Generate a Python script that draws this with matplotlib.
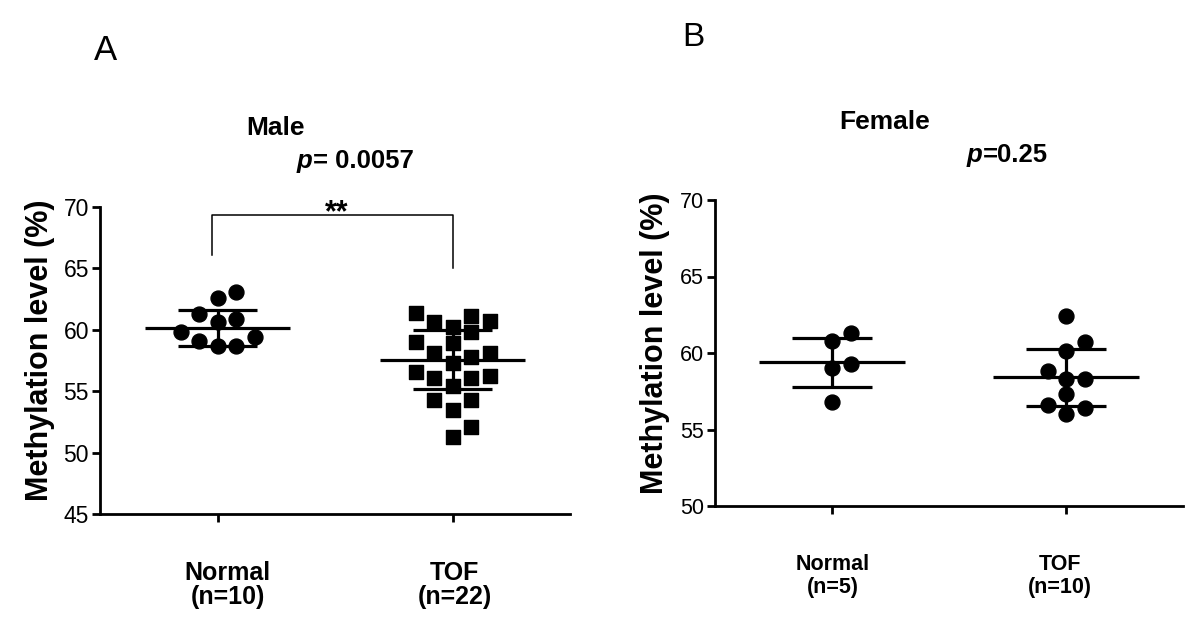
import numpy as np
import matplotlib
matplotlib.use('Agg')
import matplotlib.pyplot as plt
from matplotlib.transforms import ScaledTranslation, blended_transform_factory

plt.rcParams['font.family'] = ['Liberation Sans', 'DejaVu Sans']

# values (methylation %, each dot = one subject)
male_labels = ['Normal\n(n=10)', 'TOF\n(n=22)']
female_labels = ['Normal\n(n=5)', 'TOF\n(n=10)']

male_normal = [63.1, 62.6, 61.3, 60.9, 60.6, 59.8, 59.4, 59.1, 58.7, 58.7]
male_tof = [61.4, 60.7, 60.6, 61.1, 60.2, 59.8, 58.9, 59.0, 58.1, 57.8, 57.3,
            58.1, 56.6, 56.1, 56.1, 56.2, 55.4, 54.3, 54.3, 53.5, 52.1, 51.3]
female_normal = [61.3, 60.8, 59.3, 59.0, 56.8]
female_tof = [62.4, 60.7, 60.1, 58.3, 58.8, 58.3, 57.3, 56.6, 56.4, 56.0]

# mean +/- SD bars as drawn
male_mean = [60.15, 57.55]
male_sd = [1.45, 2.4]
female_mean = [59.4, 58.4]
female_sd = [1.6, 1.85]

male_p = '= 0.0057'
female_p = '=0.25'

fig = plt.figure(figsize=(12, 6.42), dpi=100)
W, H = 1200, 642


def fx(px):
    return px / W


def fy(py):
    return 1 - py / H


axA = fig.add_axes([fx(100), fy(514), fx(470), 307 / H])
axB = fig.add_axes([fx(715), fy(506), fx(468), 306 / H])


def swarm(ax, x0, vals, diam, step):
    # greedy column scatter like GraphPad: nearest free slot to the centre
    t = ax.transData
    sx = t.transform((1, 0))[0] - t.transform((0, 0))[0]
    sy = t.transform((0, 1))[1] - t.transform((0, 0))[1]
    vals = np.asarray(vals)
    xs = np.zeros(len(vals))
    placed = []
    for i in np.argsort(vals, kind='stable'):
        y = vals[i] * sy
        for k in [0, 1, -1, 2, -2, 3, -3]:
            x = k * step
            if all((x - a) ** 2 + (y - b) ** 2 >= diam ** 2 for a, b in placed):
                break
        placed.append((x, y))
        xs[i] = x0 + x / sx
    return xs


def style(ax, lo, hi, size):
    ax.set_xlim(0.5, 2.5)
    ax.set_ylim(lo, hi)
    ax.set_yticks(np.arange(lo, hi + 1, 5))
    ax.set_xticks([1, 2])
    ax.set_xticklabels(['', ''])
    for s in ['top', 'right']:
        ax.spines[s].set_visible(False)
    for s in ['left', 'bottom']:
        ax.spines[s].set_linewidth(2)
    ax.tick_params(direction='out', length=6, width=2, pad=2)
    ax.tick_params(axis='y', labelsize=size)


def mean_sd(ax, means, sds):
    for x, m, s in zip([1, 2], means, sds):
        ax.hlines(m, x - 0.31, x + 0.31, color='black', lw=2.3, zorder=4)
        ax.hlines([m - s, m + s], x - 0.17, x + 0.17, color='black', lw=2.3, zorder=4)
        ax.vlines(x, m - s, m + s, color='black', lw=2.3, zorder=4)


def group_labels(ax, labels, dxs, top, size, spacing):
    trans = blended_transform_factory(ax.transData, ax.transAxes)
    for x, lab, dx in zip([1, 2], labels, dxs):
        ax.text(x, 0, lab, transform=trans + ScaledTranslation(dx / 100, -top / 100, fig.dpi_scale_trans),
                ha='center', va='top', fontsize=size, fontweight='bold', linespacing=spacing,
                multialignment='center')


# panel A: male
style(axA, 45, 70, 16.5)
axA.scatter(swarm(axA, 1, male_normal, 15, 18.5), male_normal, s=115, marker='o',
            color='black', zorder=3, clip_on=False)
axA.scatter(swarm(axA, 2, male_tof, 15, 18.5), male_tof, s=95, marker='s',
            color='black', zorder=3, clip_on=False)
mean_sd(axA, male_mean, male_sd)
axA.plot([0.975, 0.975, 2, 2], [66.1, 69.35, 69.35, 65.0], color='black', lw=1.1, clip_on=False)
group_labels(axA, male_labels, [10, 2], 47, 18, 1.02)

# panel B: female
style(axB, 50, 70, 15.5)
axB.scatter(swarm(axB, 1, female_normal, 15, 18.5), female_normal, s=115, marker='o',
            color='black', zorder=3, clip_on=False)
axB.scatter(swarm(axB, 2, female_tof, 15, 18.5), female_tof, s=115, marker='o',
            color='black', zorder=3, clip_on=False)
mean_sd(axB, female_mean, female_sd)
group_labels(axB, female_labels, [1, -6], 48, 15.5, 1.15)

# labels and titles
fig.text(fx(40), fy(350), 'Methylation level (%)', rotation=90, ha='center', va='center',
         fontsize=22, fontweight='bold')
fig.text(fx(655), fy(343), 'Methylation level (%)', rotation=90, ha='center', va='center',
         fontsize=22, fontweight='bold')

fig.text(fx(94), fy(60), 'A', fontsize=25, va='baseline')
fig.text(fx(682), fy(46), 'B', fontsize=24, va='baseline')

fig.text(fx(276), fy(135), 'Male', ha='center', va='baseline', fontsize=19, fontweight='bold')
fig.text(fx(297), fy(168), 'p', va='baseline', fontsize=18.5, fontweight='bold', style='italic')
fig.text(fx(313), fy(168), male_p, va='baseline', fontsize=18.5, fontweight='bold')

fig.text(fx(885), fy(129), 'Female', ha='center', va='baseline', fontsize=19, fontweight='bold')
fig.text(fx(967), fy(162), 'p', va='baseline', fontsize=18.5, fontweight='bold', style='italic')
fig.text(fx(983), fy(162), female_p, va='baseline', fontsize=18.5, fontweight='bold')

fig.text(fx(337), fy(221), '**', ha='center', va='baseline', fontsize=22, fontweight='bold')

fig.savefig('out.png', dpi=100)
